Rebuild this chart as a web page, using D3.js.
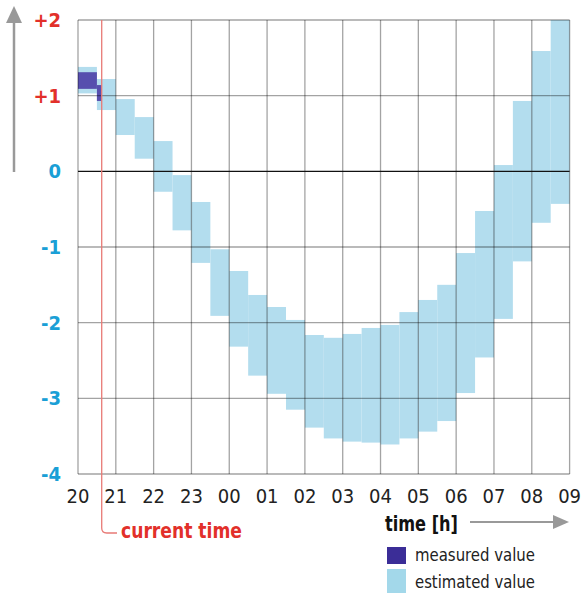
<!DOCTYPE html>
<html><head><meta charset="utf-8">
<script src="https://cdn.jsdelivr.net/npm/d3@7"></script>
<style>
body{margin:0;background:#fff;}
svg{display:block;}
text{font-family:"DejaVu Sans Condensed","DejaVu Sans",sans-serif;font-stretch:condensed;}
</style></head>
<body>
<script>
const hourLabels = ["20","21","22","23","00","01","02","03","04","05","06","07","08","09"];
const yTicks = [2,1,0,-1,-2,-3,-4];
const yTickLabels = ["+2","+1","0","-1","-2","-3","-4"];
// estimated value range per half-hour slot starting at 20:00
const estHigh = [1.38,1.22,0.955,0.717,0.40,-0.05,-0.405,-1.03,-1.317,-1.634,-1.793,-1.964,-2.163,-2.20,-2.149,-2.07,-2.03,-1.86,-1.70,-1.50,-1.08,-0.524,0.083,0.93,1.59,2.0];
const estLow  = [1.03,0.81,0.48,0.167,-0.27,-0.78,-1.21,-1.91,-2.317,-2.70,-2.94,-3.15,-3.387,-3.53,-3.572,-3.585,-3.61,-3.53,-3.44,-3.30,-2.93,-2.46,-1.95,-1.19,-0.68,-0.43];
// measured values (hours since 20:00)
const measStart = [0, 0.5];
const measEnd   = [0.5, 0.627];
const measHigh  = [1.31, 1.14];
const measLow   = [1.09, 0.93];
const currentTime = 0.627;

const W=581,H=594;
const svg=d3.select("body").append("svg").attr("width",W).attr("height",H);
const x=d3.scaleLinear().domain([0,13]).range([78,569.6]);
const y=d3.scaleLinear().domain([-4,2]).range([474,20]);

const blue="#1a9fd6", red="#e2302a";

// estimated bars
svg.append("g").selectAll("rect").data(estHigh).join("rect")
  .attr("x",(d,i)=>x(i*0.5)).attr("width",(d,i)=>x(i*0.5+0.5)-x(i*0.5))
  .attr("y",d=>y(d)).attr("height",(d,i)=>y(estLow[i])-y(d))
  .attr("fill","#b3ddee");

// measured bars
svg.append("g").selectAll("rect").data(measHigh).join("rect")
  .attr("x",(d,i)=>x(measStart[i])).attr("width",(d,i)=>x(measEnd[i])-x(measStart[i]))
  .attr("y",d=>y(d)).attr("height",(d,i)=>y(measLow[i])-y(d))
  .attr("fill","#4c3fa6").attr("opacity",0.9);

// grid
const g=svg.append("g");
g.selectAll("line.v").data(d3.range(0,14)).join("line").attr("class","v")
  .attr("x1",d=>x(d)).attr("x2",d=>x(d)).attr("y1",y(2)).attr("y2",y(-4))
  .attr("stroke","rgba(0,0,0,0.36)").attr("stroke-width",1.3);
g.selectAll("line.h").data(yTicks.filter(d=>d!==0)).join("line").attr("class","h")
  .attr("x1",x(0)).attr("x2",x(13)).attr("y1",d=>y(d)).attr("y2",d=>y(d))
  .attr("stroke","rgba(0,0,0,0.36)").attr("stroke-width",1.3);
g.append("line").attr("x1",x(0)).attr("x2",x(13)).attr("y1",y(0)).attr("y2",y(0))
  .attr("stroke","#111").attr("stroke-width",1.3);

// y labels
svg.append("g").selectAll("text").data(yTicks).join("text")
  .attr("x",61).attr("y",d=>y(d)+7).attr("text-anchor","end")
  .attr("font-size",20).attr("font-weight","bold")
  .attr("fill",d=>d>0?red:blue).text((d,i)=>yTickLabels[i]);

// x labels
svg.append("g").selectAll("text").data(hourLabels).join("text")
  .attr("x",(d,i)=>x(i)).attr("y",503).attr("text-anchor","middle")
  .attr("font-size",20).attr("fill","#222").text(d=>d);

// y arrow
svg.append("line").attr("x1",14).attr("x2",14).attr("y1",172).attr("y2",20).attr("stroke","#999").attr("stroke-width",2.5);
svg.append("path").attr("d","M14,6 L6,23 L22,23 Z").attr("fill","#999");

// current time line
const cx=x(currentTime);
svg.append("path").attr("d",`M${cx},${y(2)} L${cx},528 Q${cx},533 ${cx+5},533 L117,533`)
  .attr("fill","none").attr("stroke","#e87a76").attr("stroke-width",1.3);
svg.append("text").attr("x",121).attr("y",538).attr("font-size",22).attr("font-weight","bold")
  .attr("fill",red).attr("textLength",121).attr("lengthAdjust","spacingAndGlyphs").text("current time");

// time axis title & arrow
svg.append("text").attr("x",385).attr("y",531).attr("font-size",22).attr("font-weight","bold")
  .attr("fill","#111").attr("textLength",73).attr("lengthAdjust","spacingAndGlyphs").text("time [h]");
svg.append("line").attr("x1",470).attr("x2",556).attr("y1",522).attr("y2",522).attr("stroke","#999").attr("stroke-width",2);
svg.append("path").attr("d","M569,522 L553,515 L553,529 Z").attr("fill","#999");

// legend
svg.append("rect").attr("x",387).attr("y",547).attr("width",19).attr("height",17).attr("fill","#3b2d97");
svg.append("text").attr("x",415).attr("y",561).attr("font-size",17).attr("fill","#222")
  .attr("textLength",120).attr("lengthAdjust","spacingAndGlyphs").text("measured value");
svg.append("rect").attr("x",387).attr("y",569).attr("width",19).attr("height",24).attr("fill","#a3d8ea");
svg.append("text").attr("x",415).attr("y",588).attr("font-size",17).attr("fill","#222")
  .attr("textLength",120).attr("lengthAdjust","spacingAndGlyphs").text("estimated value");
</script>
</body></html>
